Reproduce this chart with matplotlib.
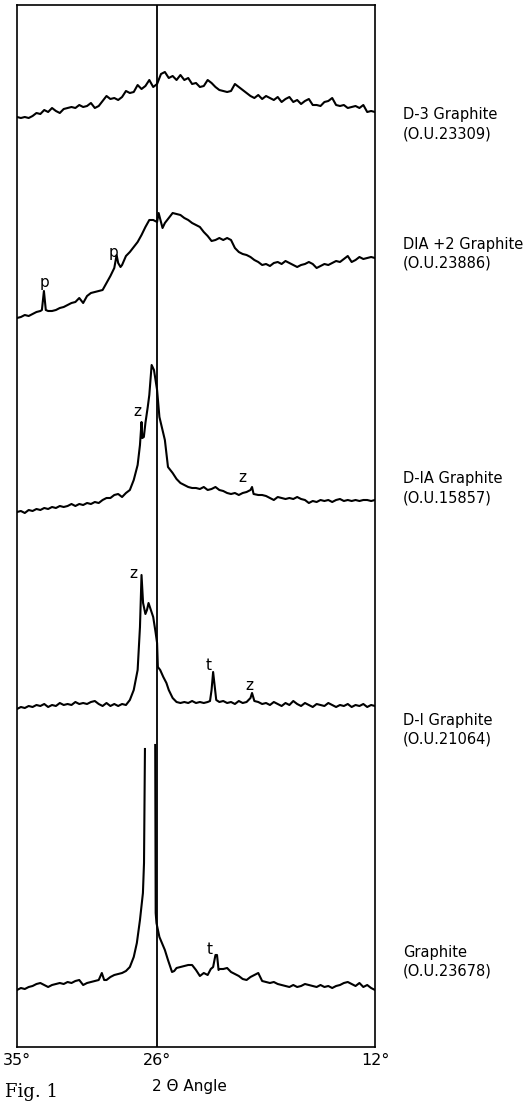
import matplotlib
matplotlib.use('Agg')
import matplotlib.pyplot as plt

# X-ray diffraction traces, 2-theta angle (deg) vs. relative intensity
d3 = [(35.0, 3), (34.75, 2), (34.5, 3), (34.25, 2), (34.0, 4), (33.75, 7), (33.5, 6), (33.25, 10),
      (33.0, 8), (32.75, 12), (32.5, 9), (32.25, 7), (32.0, 11), (31.75, 12), (31.5, 13), (31.25, 12),
      (31.0, 15), (30.75, 13), (30.5, 14), (30.25, 17), (30.0, 12), (29.75, 14), (29.5, 19), (29.25, 24),
      (29.0, 21), (28.75, 22), (28.5, 20), (28.25, 23), (28.0, 29), (27.75, 27), (27.5, 28), (27.25, 35),
      (27.0, 31), (26.75, 34), (26.5, 40), (26.25, 33), (26.0, 36), (25.75, 46), (25.5, 48), (25.25, 42),
      (25.0, 44), (24.75, 40), (24.5, 45), (24.25, 40), (24.0, 42), (23.75, 36), (23.5, 37), (23.25, 33),
      (23.0, 34), (22.75, 40), (22.5, 37), (22.25, 33), (22.0, 30), (21.75, 29), (21.5, 28), (21.25, 29),
      (21.0, 36), (20.75, 33), (20.5, 30), (20.25, 27), (20.0, 24), (19.75, 22), (19.5, 25), (19.25, 21),
      (19.0, 24), (18.75, 22), (18.5, 20), (18.25, 23), (18.0, 18), (17.75, 21), (17.5, 23), (17.25, 18),
      (17.0, 20), (16.75, 16), (16.5, 19), (16.25, 21), (16.0, 15), (15.75, 15), (15.5, 14), (15.25, 18),
      (15.0, 19), (14.75, 22), (14.5, 15), (14.25, 14), (14.0, 15), (13.75, 12), (13.5, 13), (13.25, 14),
      (13.0, 12), (12.75, 15), (12.5, 8), (12.25, 9), (12.0, 8)]

dia2 = [(35.0, 2), (34.75, 3), (34.5, 5), (34.25, 4), (34.0, 6), (33.75, 8), (33.5, 9), (33.4, 10),
        (33.27, 29), (33.15, 10), (33.0, 9), (32.75, 9), (32.5, 10), (32.25, 12), (32.0, 13), (31.75, 15),
        (31.5, 17), (31.25, 18), (31.0, 22), (30.75, 17), (30.5, 24), (30.25, 27), (30.0, 28), (29.75, 29),
        (29.5, 30), (29.25, 37), (29.0, 44), (28.75, 52), (28.6, 65), (28.5, 57), (28.35, 53), (28.25, 55),
        (28.0, 64), (27.75, 68), (27.5, 73), (27.25, 78), (27.0, 85), (26.75, 93), (26.5, 100), (26.25, 100),
        (26.0, 98), (25.9, 107), (25.65, 92), (25.5, 97), (25.25, 102), (25.0, 107), (24.75, 106), (24.5, 105),
        (24.25, 102), (24.0, 100), (23.75, 97), (23.5, 95), (23.25, 93), (23.0, 88), (22.75, 84), (22.5, 79),
        (22.25, 80), (22.0, 82), (21.75, 80), (21.5, 82), (21.25, 80), (21.0, 72), (20.75, 68), (20.5, 66),
        (20.25, 65), (20.0, 63), (19.75, 60), (19.5, 58), (19.25, 55), (19.0, 56), (18.75, 54), (18.5, 57),
        (18.25, 58), (18.0, 56), (17.75, 59), (17.5, 57), (17.25, 55), (17.0, 53), (16.75, 55), (16.5, 56),
        (16.25, 58), (16.0, 56), (15.75, 52), (15.5, 54), (15.25, 56), (15.0, 55), (14.75, 57), (14.5, 59),
        (14.25, 58), (14.0, 61), (13.75, 64), (13.5, 58), (13.25, 60), (13.0, 63), (12.75, 61), (12.5, 62),
        (12.25, 63), (12.0, 62)]

d1a = [(35.0, 3), (34.75, 4), (34.5, 2), (34.25, 5), (34.0, 4), (33.75, 6), (33.5, 5), (33.25, 7),
       (33.0, 6), (32.75, 8), (32.5, 7), (32.25, 9), (32.0, 8), (31.75, 9), (31.5, 11), (31.25, 9),
       (31.0, 11), (30.75, 10), (30.5, 12), (30.25, 11), (30.0, 13), (29.75, 12), (29.5, 15), (29.25, 17),
       (29.0, 17), (28.75, 20), (28.5, 21), (28.25, 18), (28.0, 22), (27.75, 25), (27.5, 35), (27.25, 50),
       (27.1, 70), (27.0, 93), (26.95, 77), (26.85, 78), (26.75, 92), (26.6, 108), (26.5, 120), (26.35, 150),
       (26.2, 145), (26.0, 125), (25.85, 98), (25.5, 75), (25.3, 48), (25.0, 42), (24.75, 36), (24.5, 32),
       (24.25, 30), (24.0, 28), (23.75, 27), (23.5, 27), (23.25, 26), (23.0, 28), (22.75, 25), (22.5, 26),
       (22.25, 28), (22.0, 25), (21.75, 24), (21.5, 22), (21.25, 21), (21.0, 22), (20.75, 20), (20.5, 22),
       (20.25, 23), (20.0, 25), (19.9, 28), (19.8, 21), (19.5, 20), (19.25, 20), (19.0, 19), (18.75, 17),
       (18.5, 15), (18.25, 18), (18.0, 17), (17.75, 16), (17.5, 17), (17.25, 16), (17.0, 18), (16.75, 16),
       (16.5, 15), (16.25, 12), (16.0, 14), (15.75, 13), (15.5, 15), (15.25, 14), (15.0, 15), (14.75, 13),
       (14.5, 15), (14.25, 16), (14.0, 14), (13.75, 15), (13.5, 14), (13.25, 15), (13.0, 14), (12.75, 15),
       (12.5, 15), (12.25, 14), (12.0, 15)]

d1 = [(35.0, 1), (34.75, 3), (34.5, 2), (34.25, 4), (34.0, 3), (33.75, 5), (33.5, 4), (33.25, 6),
      (33.0, 3), (32.75, 5), (32.5, 4), (32.25, 7), (32.0, 5), (31.75, 6), (31.5, 5), (31.25, 8),
      (31.0, 6), (30.75, 7), (30.5, 6), (30.25, 8), (30.0, 9), (29.75, 6), (29.5, 4), (29.25, 7),
      (29.0, 4), (28.75, 6), (28.5, 4), (28.25, 6), (28.0, 5), (27.75, 10), (27.5, 20), (27.25, 40),
      (27.1, 83), (27.0, 135), (26.9, 107), (26.75, 96), (26.65, 100), (26.55, 107), (26.4, 100), (26.25, 93),
      (26.1, 78), (26.0, 67), (25.95, 43), (25.8, 40), (25.6, 33), (25.4, 27), (25.25, 20), (25.0, 12),
      (24.75, 8), (24.5, 7), (24.25, 8), (24.0, 7), (23.75, 9), (23.5, 7), (23.25, 8), (23.0, 7),
      (22.75, 8), (22.6, 9), (22.5, 20), (22.4, 38), (22.3, 24), (22.2, 10), (22.0, 8), (21.75, 9),
      (21.5, 7), (21.25, 8), (21.0, 6), (20.75, 9), (20.5, 7), (20.25, 8), (20.0, 12), (19.9, 17),
      (19.75, 9), (19.5, 8), (19.25, 6), (19.0, 7), (18.75, 5), (18.5, 8), (18.25, 6), (18.0, 4),
      (17.75, 7), (17.5, 5), (17.25, 9), (17.0, 6), (16.75, 4), (16.5, 7), (16.25, 5), (16.0, 3),
      (15.75, 6), (15.5, 5), (15.25, 4), (15.0, 7), (14.75, 5), (14.5, 3), (14.25, 5), (14.0, 4),
      (13.75, 6), (13.5, 3), (13.25, 5), (13.0, 4), (12.75, 6), (12.5, 3), (12.25, 5), (12.0, 4)]

# the 002 peak runs off scale: pen leaves the chart between the two edges (None = no ink)
graphite = [(35.0, 5), (34.75, 7), (34.5, 6), (34.25, 8), (34.0, 9), (33.75, 11), (33.5, 12), (33.25, 10),
            (33.0, 8), (32.75, 10), (32.5, 11), (32.25, 12), (32.0, 11), (31.75, 13), (31.5, 12), (31.25, 14),
            (31.0, 15), (30.75, 10), (30.5, 12), (30.25, 13), (30.0, 14), (29.75, 15), (29.55, 22), (29.4, 15),
            (29.25, 15), (29.0, 18), (28.75, 20), (28.5, 21), (28.25, 22), (28.0, 24), (27.75, 28), (27.5, 38),
            (27.3, 52), (27.1, 75), (26.91, 102), (26.84, 132), (26.78, 246), (26.5, None), (26.12, 250),
            (26.09, 82), (26.04, 72), (25.85, 58), (25.5, 45),
            (25.3, 35), (25.04, 23), (24.9, 24), (24.75, 27), (24.5, 28), (24.25, 29), (24.0, 30), (23.75, 30),
            (23.5, 25), (23.25, 19), (23.0, 22), (22.75, 20), (22.55, 26), (22.4, 28), (22.25, 40), (22.15, 40),
            (22.05, 25), (22.0, 26), (21.75, 26), (21.5, 27), (21.25, 23), (21.0, 21), (20.75, 19), (20.5, 16),
            (20.25, 15), (20.0, 18), (19.75, 20), (19.5, 22), (19.25, 14), (19.0, 13), (18.75, 12), (18.5, 13),
            (18.25, 11), (18.0, 10), (17.75, 9), (17.5, 8), (17.25, 10), (17.0, 8), (16.75, 9), (16.5, 11),
            (16.25, 10), (16.0, 9), (15.75, 8), (15.5, 10), (15.25, 8), (15.0, 9), (14.75, 7), (14.5, 9),
            (14.25, 10), (14.0, 12), (13.75, 13), (13.5, 11), (13.25, 9), (13.0, 12), (12.75, 8), (12.5, 10),
            (12.25, 7), (12.0, 5)]

traces = [d3, dia2, d1a, d1, graphite]
names = ['D-3 Graphite', 'DIA +2 Graphite', 'D-IA Graphite', 'D-I Graphite', 'Graphite']
samples = ['(O.U.23309)', '(O.U.23886)', '(O.U.15857)', '(O.U.21064)', '(O.U.23678)']
tick_pos = [35, 26, 12]
tick_labels = ['35°', '26°', '12°']

# peak markers: (angle, letter)
marks = [(33.25, 'p'), (28.8, 'p'), (27.25, 'z'), (20.5, 'z'),
         (27.55, 'z'), (22.7, 't'), (20.1, 'z'), (22.6, 't')]

# layout (pixels of the 530x1102 picture)
W, H = 530, 1102
offsets = [927, 727, 532, 337, 52]
label_y = [115, 244, 479, 720, 952]
mark_px = [282, 252, 412, 477, 573, 665, 685, 950]
sans = 'DejaVu Sans'

fig = plt.figure(figsize=(W / 100, H / 100), dpi=100)
ax = fig.add_axes([17 / W, (H - 1047) / H, (375 - 17) / W, (1047 - 5) / H])
for tr, off in zip(traces, offsets):
    xs = [p[0] for p in tr]
    ys = [float('nan') if p[1] is None else p[1] + off for p in tr]
    ax.plot(xs, ys, color='black', lw=1.5, solid_joinstyle='round')
ax.axvline(26, color='black', lw=1.3)
ax.set_xlim(35, 12)
ax.set_ylim(0, 1042)
ax.set_yticks([])
ax.set_xticks(tick_pos)
ax.set_xticklabels(tick_labels, fontsize=11.5, family=sans)
ax.tick_params(axis='x', length=0, pad=4)
for s in ax.spines.values():
    s.set_linewidth(1.2)

for (ang, letter), py in zip(marks, mark_px):
    ax.text(ang, 1047 - py, letter, ha='center', va='center', fontsize=11, family=sans)

for name, samp, ly in zip(names, samples, label_y):
    fig.text(403 / W, 1 - ly / H, name, ha='left', va='center', fontsize=10.5, family=sans)
    fig.text(403 / W, 1 - (ly + 19) / H, samp, ha='left', va='center', fontsize=10.5, family=sans)

fig.text(189 / W, 1 - 1087 / H, '2 Θ Angle', ha='center', va='center', fontsize=11, family=sans)
fig.text(5 / W, 1 - 1097 / H, 'Fig. 1', ha='left', va='baseline', fontsize=13,
         family='DejaVu Serif')

fig.savefig('out.png', dpi=100)
